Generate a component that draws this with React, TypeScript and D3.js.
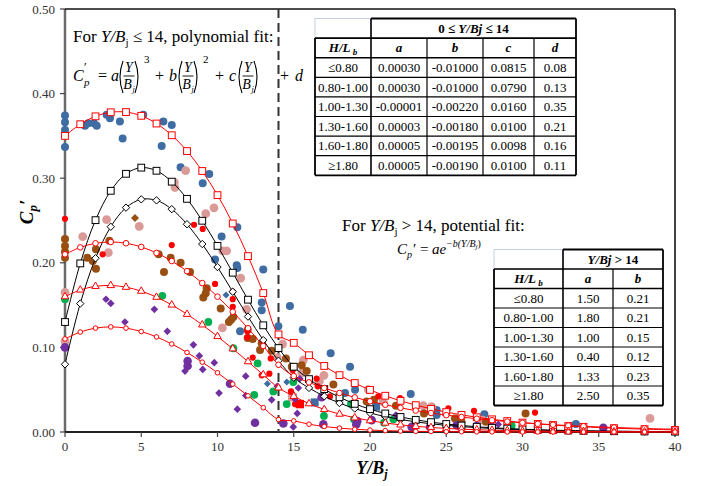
import React from "react";
import * as d3 from "d3";

// ---------- data ----------
const xTicks = [0, 5, 10, 15, 20, 25, 30, 35, 40];
const yTicks = [0, 0.1, 0.2, 0.3, 0.4, 0.5];
const splitX = 14;

const groups = ["≤0.80", "0.80-1.00", "1.00-1.30", "1.30-1.60", "1.60-1.80", "≥1.80"];
const polyA = [0.0003, 0.0003, -0.00001, 0.00003, 0.00005, 0.00005];
const polyB = [-0.01, -0.01, -0.0022, -0.0018, -0.00195, -0.0019];
const polyC = [0.0815, 0.079, 0.016, 0.01, 0.0098, 0.01];
const polyD = [0.08, 0.13, 0.35, 0.21, 0.16, 0.11];
const expA = [1.5, 1.8, 1.0, 0.4, 1.33, 2.5];
const expB = [0.21, 0.21, 0.15, 0.12, 0.23, 0.35];

const polyAText = ["0.00030", "0.00030", "-0.00001", "0.00003", "0.00005", "0.00005"];
const polyBText = ["-0.01000", "-0.01000", "-0.00220", "-0.00180", "-0.00195", "-0.00190"];
const polyCText = ["0.0815", "0.0790", "0.0160", "0.0100", "0.0098", "0.0100"];
const polyDText = ["0.08", "0.13", "0.35", "0.21", "0.16", "0.11"];
const expAText = ["1.50", "1.80", "1.00", "0.40", "1.33", "2.50"];
const expBText = ["0.21", "0.21", "0.15", "0.12", "0.23", "0.35"];

const fitX = [0, 1, 2, 3, 4, 5, 6, 7, 8, 9, 10, 11, 12, 13, 14, 15, 16, 17, 18, 19, 20, 21, 22, 23, 24, 25, 26, 27, 28, 29, 30, 31, 32, 33, 34, 36, 38, 40];

const blueCircles = [
  [0, 0.374], [0, 0.366], [0, 0.357], [0, 0.337], [1.31, 0.362], [1.53, 0.365], [1.9, 0.365], [2.08, 0.362],
  [2.73, 0.375], [2.95, 0.371], [3.6, 0.367], [3.78, 0.347], [5.13, 0.375], [6.45, 0.367], [7.0, 0.363],
  [6.34, 0.338], [7.58, 0.313], [9.46, 0.305], [9.03, 0.294], [11.3, 0.242], [10.27, 0.231], [11.26, 0.197],
  [11.3, 0.194], [9.84, 0.204], [13.0, 0.192], [12.9, 0.153], [12.9, 0.144], [14.75, 0.149], [15.59, 0.121],
  [11.48, 0.119], [13.99, 0.125], [17.42, 0.093], [18.69, 0.077], [19.02, 0.05], [18.36, 0.046], [22.67, 0.045],
  [24.37, 0.026], [24.37, 0.02], [27.5, 0.021], [33.5, 0.0095],
];
const blueDiamonds = [[10.56, 0.162], [13.27, 0.057], [14.54, 0.059], [15.0, 0.044]];
const blueSquares = [[16.37, 0.035], [20.4, 0.03]];

const pinkCircles = [
  [0, 0.165], [0, 0.107], [7.91, 0.309], [7.17, 0.295], [7.21, 0.289], [9.77, 0.265], [9.23, 0.258], [2.73, 0.251],
  [1.16, 0.231], [4.87, 0.243], [2.84, 0.212], [10.34, 0.214], [10.6, 0.214], [11.52, 0.182], [11.91, 0.145],
  [10.32, 0.123], [14.27, 0.104], [13.92, 0.088], [15.63, 0.085], [15.52, 0.07], [16.68, 0.06], [16.98, 0.067],
  [19.89, 0.05], [20.87, 0.036], [23.5, 0.031], [24.04, 0.03], [27.4, 0.014], [38.36, 0.016],
];
const pinkSquares = [[14.9, 0.041]];

const redCircles = [
  [0, 0.252], [2.47, 0.21], [7.0, 0.221], [8.46, 0.245], [9.03, 0.24], [9.84, 0.175], [11.0, 0.166], [11.0, 0.157],
  [11.0, 0.148], [11.96, 0.119], [11.96, 0.112], [12.31, 0.088], [12.9, 0.067], [13.4, 0.069], [13.49, 0.087],
  [14.82, 0.048], [15.08, 0.033], [16.5, 0.063], [14.93, 0.073], [16.57, 0.054], [17.38, 0.042], [20.54, 0.042],
  [21.97, 0.04], [25.14, 0.028], [26.82, 0.025], [30.82, 0.023],
];
const redSquares = [[15.4, 0.033]];

const brownCircles = [
  [0, 0.228], [0, 0.22], [0, 0.213], [0, 0.206], [2.91, 0.226], [2.03, 0.216], [1.46, 0.206], [1.82, 0.202],
  [2.03, 0.193], [6.14, 0.21], [6.93, 0.206], [7.58, 0.2], [6.49, 0.189], [8.2, 0.189], [9.29, 0.17], [9.23, 0.164],
  [9.07, 0.159], [10.21, 0.146], [10.75, 0.13], [11.04, 0.136], [10.9, 0.133], [11.98, 0.121], [11.98, 0.111],
  [12.31, 0.11], [12.9, 0.105], [12.79, 0.097], [13.55, 0.096], [14.49, 0.087], [15.52, 0.079], [15.85, 0.072],
  [14.87, 0.077], [17.6, 0.056], [19.78, 0.036], [20.26, 0.038], [21.7, 0.031], [23.54, 0.022], [25.57, 0.016],
  [26.0, 0.012], [27.6, 0.012], [30.2, 0.022],
];
const brownDiamonds = [[4.59, 0.253]];

const greenCircles = [
  [0, 0.157], [6.38, 0.161], [9.4, 0.13], [11.04, 0.099], [12.63, 0.081], [12.41, 0.044], [13.66, 0.048],
  [14.54, 0.033], [14.97, 0.059], [16.98, 0.019], [18.03, 0.042], [18.75, 0.033], [18.95, 0.015], [20.92, 0.011],
  [21.53, 0.015], [29.29, 0.0075],
];

const purpleDiamonds = [
  [2.69, 0.157], [3.0, 0.152], [3.93, 0.13], [5.86, 0.145], [6.71, 0.119], [8.42, 0.103], [8.81, 0.09], [9.03, 0.074],
  [9.79, 0.082], [7.87, 0.072], [11.85, 0.066], [10.1, 0.046], [11.3, 0.027], [11.85, 0.043], [13.55, 0.038],
  [13.92, 0.054], [15.3, 0.052], [15.23, 0.022], [14.97, 0.006], [15.08, 0.039], [15.4, 0.063], [21.7, 0.02],
  [28.41, 0.009],
];
const purpleCircles = [
  [0, 0.1], [8.04, 0.084], [8.04, 0.078], [10.82, 0.057], [12.46, 0.011], [14.32, 0.01], [16.83, 0.041],
  [16.94, 0.009], [19.17, 0.013], [19.1, 0.009], [20.11, 0.014], [22.73, 0.006], [23.93, 0.006], [25.68, 0.008],
  [27.0, 0.007], [27.98, 0.006], [35.3, 0.005],
];

// ---------- style ----------
const SERIF = "'Liberation Serif', 'Times New Roman', serif";
const BLUE = "#3E6CA3";
const PINK = "#DA9A98";
const RED = "#FF0000";
const BROWN = "#9A4F12";
const GREEN = "#00B050";
const PURPLE = "#7030A0";

const fitColor = ["#000", "#000", RED, RED, RED, RED];
const fitMarker = ["diamond", "square", "square", "circle", "triangle", "smallcircle"];

const M = { left: 65, right: 675, top: 9, bottom: 432 };

function fitValue(i: number, t: number) {
  if (t <= splitX) return polyA[i] * t * t * t + polyB[i] * t * t + polyC[i] * t + polyD[i];
  return expA[i] * Math.exp(-expB[i] * t);
}

function Marker({ type, cx, cy, color }: any) {
  if (type === "square")
    return <rect x={cx - 3.4} y={cy - 3.4} width={6.8} height={6.8} fill="#fff" stroke={color} strokeWidth={1} />;
  if (type === "diamond")
    return <path d={`M${cx},${cy - 3.7}L${cx + 3.7},${cy}L${cx},${cy + 3.7}L${cx - 3.7},${cy}Z`} fill="#fff" stroke={color} strokeWidth={1} />;
  if (type === "circle") return <circle cx={cx} cy={cy} r={2.8} fill="#fff" stroke={color} strokeWidth={1} />;
  if (type === "smallcircle") return <circle cx={cx} cy={cy} r={2.3} fill="#fff" stroke={color} strokeWidth={1} />;
  const p = d3.symbol(d3.symbolTriangle, 24)();
  return <path d={p as string} transform={`translate(${cx},${cy})`} fill="#fff" stroke={color} strokeWidth={1} />;
}

// (Y / B_j) with thin tall parentheses
function ParenFrac({ x0, bar }: { x0: number; bar: number }) {
  const top = bar - 15;
  const bot = bar + 17;
  const mid = (top + bot) / 2;
  const cx = x0 + 10;
  const xr = x0 + 20;
  return (
    <g fontFamily={SERIF} fontStyle="italic" fontSize={14}>
      <path d={`M${x0 + 4},${top} Q${x0 - 2},${mid} ${x0 + 4},${bot}`} fill="none" stroke="#000" strokeWidth={1.1} />
      <text x={cx} y={bar - 4} textAnchor="middle">Y</text>
      <line x1={cx - 5.5} x2={cx + 5.5} y1={bar} y2={bar} stroke="#000" strokeWidth={0.9} />
      <text x={cx - 1.5} y={bar + 13} textAnchor="middle">B</text>
      <text x={cx + 3.5} y={bar + 16} fontSize={8}>j</text>
      <path d={`M${xr - 4},${top} Q${xr + 2},${mid} ${xr - 4},${bot}`} fill="none" stroke="#000" strokeWidth={1.1} />
    </g>
  );
}

function Table({ x0, cols, top, rh, header, colHeads, columns }: any) {
  const edges = [x0, ...cols];
  const nRows = 2 + columns[0].length;
  const bottom = top + rh * nRows;
  const right = edges[edges.length - 1];
  const lines: any[] = [];
  lines.push(<rect key="tl" x={x0} y={top} width={edges[1] - x0} height={rh} fill="none" stroke="#C5CEDC" strokeWidth={1} />);
  for (let r = 1; r < nRows; r++) {
    const yy = top + r * rh;
    lines.push(<line key={"h" + r} x1={x0} x2={right} y1={yy} y2={yy} stroke="#000" strokeWidth={r === 1 || r === 2 ? 1.6 : 1.2} />);
  }
  lines.push(<line key="htop" x1={edges[1]} x2={right} y1={top} y2={top} stroke="#000" strokeWidth={1.8} />);
  lines.push(<line key="hbot" x1={x0} x2={right} y1={bottom} y2={bottom} stroke="#000" strokeWidth={1.8} />);
  lines.push(<line key="vl" x1={x0} x2={x0} y1={top + rh} y2={bottom} stroke="#000" strokeWidth={1.8} />);
  lines.push(<line key="vr" x1={right} x2={right} y1={top} y2={bottom} stroke="#000" strokeWidth={1.8} />);
  lines.push(<line key="v1" x1={edges[1]} x2={edges[1]} y1={top} y2={bottom} stroke="#000" strokeWidth={1.6} />);
  for (let c = 2; c < edges.length - 1; c++) {
    lines.push(<line key={"v" + c} x1={edges[c]} x2={edges[c]} y1={top + rh} y2={bottom} stroke="#000" strokeWidth={1.2} />);
  }
  const cells: any[] = [];
  const mid = (c: number) => (edges[c] + edges[c + 1]) / 2;
  const base = (r: number) => top + r * rh + rh / 2 + 4.5;
  cells.push(
    <text key="hd" x={(edges[1] + right) / 2} y={base(0)} textAnchor="middle" fontWeight="bold">
      {header}
    </text>
  );
  cells.push(
    <text key="hl" x={mid(0)} y={base(1)} textAnchor="middle" fontWeight="bold" fontStyle="italic">
      H/L<tspan fontSize={9} dy={3}> b</tspan>
    </text>
  );
  colHeads.forEach((h: string, i: number) =>
    cells.push(
      <text key={"ch" + i} x={mid(i + 1)} y={base(1)} textAnchor="middle" fontWeight="bold" fontStyle="italic">
        {h}
      </text>
    )
  );
  columns.forEach((col: string[], c: number) =>
    col.forEach((v: string, r: number) =>
      cells.push(
        <text key={`c${c}-${r}`} x={mid(c)} y={base(r + 2)} textAnchor="middle">
          {v}
        </text>
      )
    )
  );
  return (
    <g fontFamily={SERIF} fontSize={13} fill="#000">
      <rect x={x0} y={top} width={right - x0} height={bottom - top} fill="#fff" />
      {lines}
      {cells}
    </g>
  );
}

export default function App() {
  const x = d3.scaleLinear().domain([0, 40]).range([M.left, M.right]);
  const y = d3.scaleLinear().domain([0, 0.5]).range([M.bottom, M.top]);

  const line = d3
    .line<number>()
    .x((t) => x(t))
    .curve(d3.curveCatmullRom);

  const dots = (pts: number[][], color: string, r: number, key: string) =>
    pts.map((p, i) => <circle key={key + i} cx={x(p[0])} cy={y(p[1])} r={r} fill={color} />);
  const diamonds = (pts: number[][], color: string, s: number, key: string) =>
    pts.map((p, i) => {
      const cx = x(p[0]);
      const cy = y(p[1]);
      return <path key={key + i} d={`M${cx},${cy - s}L${cx + s},${cy}L${cx},${cy + s}L${cx - s},${cy}Z`} fill={color} />;
    });
  const squares = (pts: number[][], color: string, s: number, key: string) =>
    pts.map((p, i) => <rect key={key + i} x={x(p[0]) - s} y={y(p[1]) - s} width={2 * s} height={2 * s} fill={color} />);

  return (
    <div style={{ position: "fixed", left: 0, top: 0 }}>
      <svg width={702} height={486} style={{ display: "block", background: "#fff" }}>
        {/* axes */}
        <line x1={M.left} x2={M.left} y1={M.top} y2={M.bottom} stroke="#6b6b6b" strokeWidth={2.5} />
        <line x1={M.left} x2={M.right} y1={M.bottom} y2={M.bottom} stroke="#222" strokeWidth={2} />
        <line x1={M.left} x2={M.right} y1={M.top} y2={M.top} stroke="#111" strokeWidth={1.6} />
        <line x1={M.right} x2={M.right} y1={M.top} y2={M.bottom} stroke="#111" strokeWidth={1.6} />
        {yTicks.map((t) => (
          <g key={"yt" + t}>
            <line x1={M.left - 5} x2={M.left} y1={y(t)} y2={y(t)} stroke="#444" strokeWidth={1.2} />
            <text x={55} y={y(t) + 4.5} textAnchor="end" fontFamily={SERIF} fontSize={13} fill="#333">
              {t.toFixed(2)}
            </text>
          </g>
        ))}
        {xTicks.map((t) => (
          <g key={"xt" + t}>
            <line x1={x(t)} x2={x(t)} y1={M.bottom} y2={M.bottom + 5} stroke="#444" strokeWidth={1.2} />
            <text x={x(t)} y={451} textAnchor="middle" fontFamily={SERIF} fontSize={13} fill="#333">
              {t}
            </text>
          </g>
        ))}
        {/* axis titles */}
        <text transform="translate(33,212) rotate(-90)" textAnchor="middle" fontFamily={SERIF} fontSize={19} fontWeight="bold" fontStyle="italic">
          C<tspan fontSize={13} dy={4}>p</tspan>
          <tspan dy={-4}>′</tspan>
        </text>
        <text x={372} y={474} textAnchor="middle" fontFamily={SERIF} fontSize={18} fontWeight="bold" fontStyle="italic">
          Y/B<tspan fontSize={12} dy={4}>j</tspan>
        </text>

        {/* dashed split line */}
        <line x1={x(splitX)} x2={x(splitX)} y1={M.top} y2={M.bottom} stroke="#333" strokeWidth={2} strokeDasharray="9,5" />

        {/* scattered measurements */}
        {dots(blueCircles, BLUE, 4, "bc")}
        {diamonds(blueDiamonds, BLUE, 3.5, "bd")}
        {squares(blueSquares, BLUE, 4, "bs")}
        {dots(pinkCircles, PINK, 4.4, "pc")}
        {squares(pinkSquares, PINK, 4.2, "ps")}
        {dots(brownCircles, BROWN, 4, "brc")}
        {diamonds(brownDiamonds, BROWN, 4, "brd")}
        {dots(greenCircles, GREEN, 3.9, "gc")}
        {dots(redCircles, RED, 3.1, "rc")}
        {squares(redSquares, RED, 4.2, "rs")}
        {diamonds(purpleDiamonds, PURPLE, 3.8, "pd")}
        {dots(purpleCircles, PURPLE, 4.3, "puc")}

        {/* fitted curves */}
        {groups.map((g, i) => {
          const path = line.y((t) => y(fitValue(i, t)))(fitX);
          return (
            <g key={"fit" + g}>
              <path d={path as string} fill="none" stroke={fitColor[i]} strokeWidth={1} />
              {fitX.map((t) => (
                <Marker key={t} type={fitMarker[i]} cx={x(t)} cy={y(fitValue(i, t))} color={fitColor[i]} />
              ))}
            </g>
          );
        })}

        {/* polynomial annotation */}
        <text x={73} y={42} fontFamily={SERIF} fontSize={17}>
          For <tspan fontStyle="italic">Y/B</tspan>
          <tspan fontSize={11} dy={4}>j</tspan>
          <tspan dy={-4}> ≤ 14, polynomial fit:</tspan>
        </text>
        <g fontFamily={SERIF} fontSize={16}>
          <text x={73} y={81} fontStyle="italic">C</text>
          <text x={84} y={86} fontStyle="italic" fontSize={11}>p</text>
          <text x={84} y={71} fontSize={12}>′</text>
          <text x={98} y={81}>=</text>
          <text x={111} y={81} fontStyle="italic">a</text>
          <ParenFrac x0={119} bar={76} />
          <text x={144} y={63} fontSize={11}>3</text>
          <text x={155} y={81}>+</text>
          <text x={169} y={81} fontStyle="italic">b</text>
          <ParenFrac x0={178} bar={76} />
          <text x={203} y={63} fontSize={11}>2</text>
          <text x={215} y={81}>+</text>
          <text x={229} y={81} fontStyle="italic">c</text>
          <ParenFrac x0={238} bar={76} />
          <text x={280} y={81}>+</text>
          <text x={295} y={81} fontStyle="italic">d</text>
        </g>

        {/* exponential annotation */}
        <text x={342} y={231} fontFamily={SERIF} fontSize={17}>
          For <tspan fontStyle="italic">Y/B</tspan>
          <tspan fontSize={11} dy={4}>j</tspan>
          <tspan dy={-4}> &gt; 14, potential fit:</tspan>
        </text>
        <g fontFamily={SERIF} fontSize={15} fontStyle="italic">
          <text x={397} y={254}>C</text>
          <text x={407} y={258} fontSize={10}>p</text>
          <text x={413} y={254} fontStyle="normal">′ =</text>
          <text x={432} y={254}>ae</text>
          <text x={446} y={247} fontSize={10}>
            −b(Y/B<tspan fontSize={7} dy={2}>j</tspan>
            <tspan dy={-2} fontStyle="normal">)</tspan>
          </text>
        </g>

        {/* tables */}
        <Table
          x0={315}
          cols={[371, 427, 483, 534, 576]}
          top={18.5}
          rh={19.6}
          header={
            <>
              0 ≤ <tspan fontStyle="italic">Y/Bj</tspan> ≤ 14
            </>
          }
          colHeads={["a", "b", "c", "d"]}
          columns={[groups, polyAText, polyBText, polyCText, polyDText]}
        />
        <Table
          x0={494}
          cols={[563, 613, 663]}
          top={249.5}
          rh={19.5}
          header={
            <>
              <tspan fontStyle="italic">Y/Bj</tspan> &gt; 14
            </>
          }
          colHeads={["a", "b"]}
          columns={[groups, expAText, expBText]}
        />
      </svg>
    </div>
  );
}
